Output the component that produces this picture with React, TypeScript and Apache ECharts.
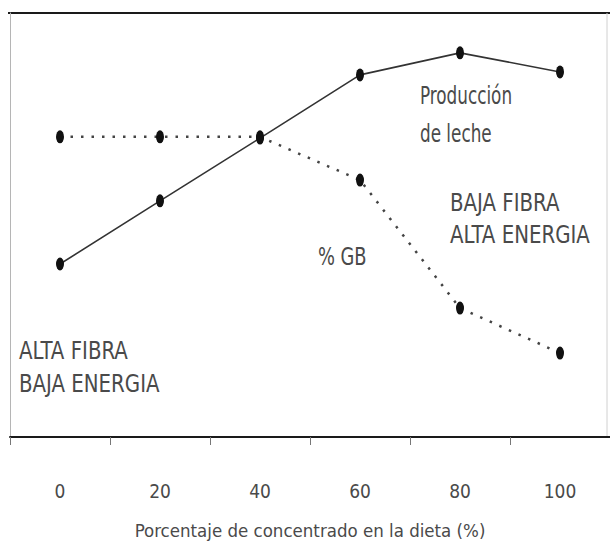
import React, { useEffect, useRef } from "react";
import * as echarts from "echarts";

const categories = ["0", "20", "40", "60", "80", "100"];
const produccionLeche = [40.8, 55.7, 70.5, 85.4, 90.6, 86.1];
const grasaButirica = [70.8, 70.8, 70.8, 60.6, 30.4, 19.8];
const axisTitle = "Porcentaje de concentrado en la dieta (%)";

const FONT = "'Liberation Sans Narrow', 'DejaVu Sans Condensed', 'Arial Narrow', sans-serif";
const TEXT = "#4a4a4a";
const ELLIPSE = "path://M0,-1A1,1 0 1,1 0,1A1,1 0 1,1 0,-1Z";

export default function App() {
  const ref = useRef<HTMLDivElement>(null);
  useEffect(() => {
    if (!ref.current) return;
    const chart = echarts.init(ref.current, null, { renderer: "svg" });
    const label = (text: string, x: number, y: number, sx: number) => ({
      type: "text",
      x,
      y,
      scaleX: sx,
      scaleY: 1.15,
      style: { text, fontSize: 22, fontFamily: FONT, fill: TEXT, verticalAlign: "middle", align: "left" },
    });
    chart.setOption({
      animation: false,
      backgroundColor: "#ffffff",
      grid: { left: 10, right: 0, top: 13, bottom: 113 },
      xAxis: {
        type: "category",
        data: categories,
        boundaryGap: true,
        axisLine: { lineStyle: { color: "#1a1a1a", width: 2 } },
        axisTick: { show: true, length: 8, lineStyle: { color: "#777", width: 1 } },
        axisLabel: { margin: 44, fontSize: 19, fontFamily: FONT, color: TEXT },
        name: axisTitle,
        nameLocation: "middle",
        nameGap: 84,
        nameTextStyle: { fontSize: 18.5, fontFamily: FONT, color: TEXT },
      },
      yAxis: {
        type: "value",
        min: 0,
        max: 100,
        axisLine: { show: true, lineStyle: { color: "#b5b5b5", width: 1 } },
        axisTick: { show: false },
        axisLabel: { show: false },
        splitLine: { show: false },
      },
      graphic: [
        { type: "line", shape: { x1: 8, y1: 13, x2: 610, y2: 13 }, style: { stroke: "#1a1a1a", lineWidth: 2 } },
        { type: "line", shape: { x1: 607, y1: 13, x2: 607, y2: 437 }, style: { stroke: "#d0d0d0", lineWidth: 1 } },
        label("Producción", 420, 95, 0.85),
        label("de leche", 420, 133, 0.85),
        label("BAJA FIBRA", 450, 202, 1),
        label("ALTA ENERGIA", 450, 234, 1),
        label("% GB", 318, 256, 0.9),
        label("ALTA FIBRA", 19, 350, 1),
        label("BAJA ENERGIA", 19, 383, 1),
      ],
      series: [
        {
          name: "Producción de leche",
          type: "line",
          data: produccionLeche,
          symbol: ELLIPSE,
          symbolSize: [8, 13],
          itemStyle: { color: "#111" },
          lineStyle: { color: "#333", width: 1.6 },
          z: 3,
        },
        {
          name: "% GB",
          type: "line",
          data: grasaButirica,
          symbol: ELLIPSE,
          symbolSize: [8, 13],
          itemStyle: { color: "#111" },
          lineStyle: { color: "#444", width: 2.5, type: [2.5, 8] },
          z: 2,
        },
      ],
    });
    return () => chart.dispose();
  }, []);
  return <div ref={ref} style={{ position: "absolute", left: 0, top: 0, width: 610, height: 550 }} />;
}
